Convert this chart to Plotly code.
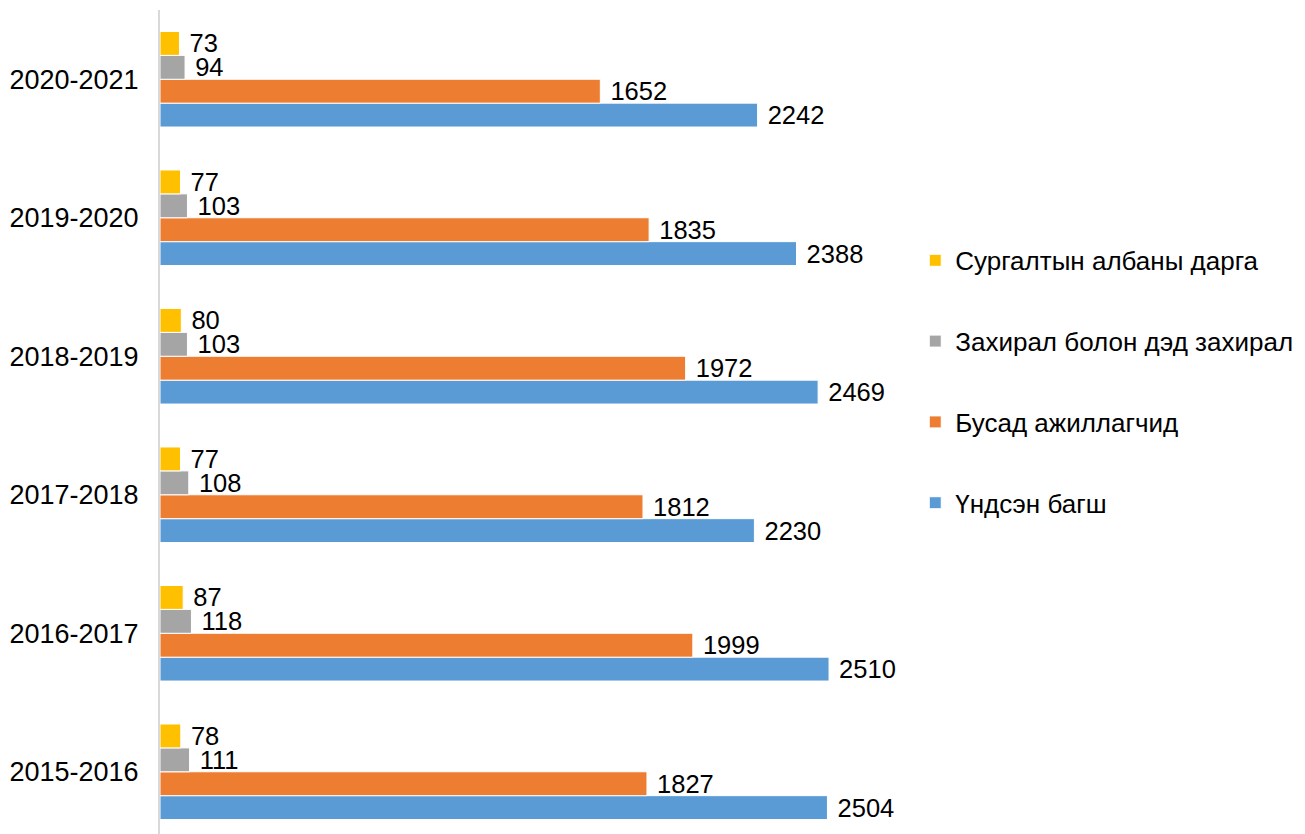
import plotly.graph_objects as go

years = ["2015-2016", "2016-2017", "2017-2018", "2018-2019", "2019-2020", "2020-2021"]
teachers = [2504, 2510, 2230, 2469, 2388, 2242]
other_staff = [1827, 1999, 1812, 1972, 1835, 1652]
directors = [111, 118, 108, 103, 103, 94]
training_heads = [78, 87, 77, 80, 77, 73]

series = [
    ("Үндсэн багш", teachers, "#5B9BD5"),
    ("Бусад ажиллагчид", other_staff, "#ED7D31"),
    ("Захирал болон дэд захирал", directors, "#A5A5A5"),
    ("Сургалтын албаны дарга", training_heads, "#FFC000"),
]

FONT = "Liberation Sans, Arial, sans-serif"
fig = go.Figure()
for i, (name, vals, color) in enumerate(series):
    fig.add_trace(go.Bar(
        y=years, x=vals, name=name, orientation="h",
        marker=dict(color=color, line=dict(color="white", width=1)),
        text=vals, texttemplate=" %{x}", textposition="outside",
        textfont=dict(size=25.5, color="black", family=FONT),
        constraintext="none",
        cliponaxis=False, legendgroup=f"g{i}", legendrank=4 - i,
    ))

fig.update_layout(
    width=1305, height=834,
    margin=dict(l=152, r=400, t=2, b=0, autoexpand=False),
    barmode="group", bargap=0.31, bargroupgap=0,
    plot_bgcolor="white", paper_bgcolor="white",
    font=dict(family=FONT, size=26, color="black"),
    showlegend=True,
    legend=dict(
        x=1.003, xanchor="left", y=0.553, yanchor="middle",
        traceorder="grouped", tracegroupgap=44,
        font=dict(size=26, color="black", family=FONT),
        itemwidth=30,
    ),
    xaxis=dict(range=[0, 2825], showgrid=False, showticklabels=False,
               zeroline=False, showline=False, automargin=False),
    yaxis=dict(categoryorder="array", categoryarray=years,
               range=[-0.507, 5.5], showline=True, linecolor="#D9D9D9",
               linewidth=2, ticks="", ticklabelstandoff=14, automargin=False,
               tickfont=dict(size=27, color="black", family=FONT)),
)

fig.write_html("out.html")
